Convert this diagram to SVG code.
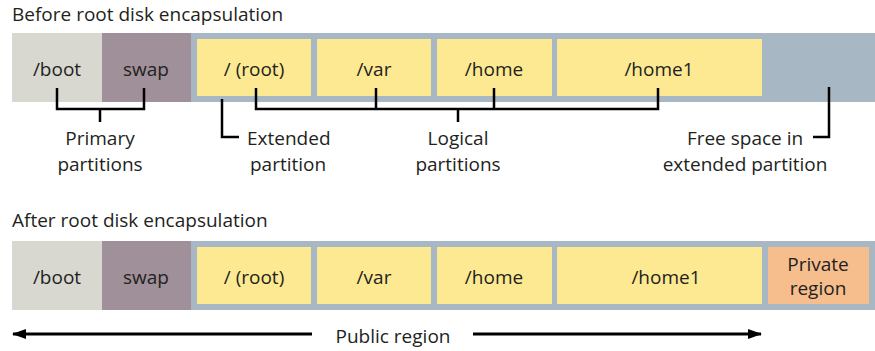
<svg xmlns="http://www.w3.org/2000/svg" width="875" height="351" viewBox="0 0 875 351">
<defs>
<style>
text{font-family:"Open Sans","Noto Sans","DejaVu Sans",sans-serif;fill:#231f20}
.t{font-size:19px}
.l{font-size:19px;text-anchor:middle}
.boot{fill:#d9d8d0}
.swap{fill:#a09099}
.ext{fill:#a7b7c4}
.part{fill:#fde992}
.priv{fill:#f6be8d}
.br{fill:none;stroke:#000;stroke-width:2.5}
.ar{stroke:#000;stroke-width:3}
</style>
<marker id="ah" viewBox="0 0 14 10" refX="13" refY="5" markerWidth="14" markerHeight="10" markerUnits="userSpaceOnUse" orient="auto-start-reverse">
<path d="M0,0 L14,5 L0,10 z" fill="#000"/>
</marker>
</defs>
<rect width="875" height="351" fill="#fff"/>
<text class="t" x="12" y="21">Before root disk encapsulation</text>
<g id="before">
<g id="b-boot"><rect class="boot" x="12" y="33" width="90" height="69"/><text class="l" x="57" y="76">/boot</text></g>
<g id="b-swap"><rect class="swap" x="102" y="33" width="89" height="69"/><text class="l" x="146" y="76">swap</text></g>
<g id="b-ext"><rect class="ext" x="191" y="33" width="684" height="69"/></g>
<g id="b-root"><rect class="part" x="197" y="39" width="114" height="57"/><text class="l" x="254" y="76">/ (root)</text></g>
<g id="b-var"><rect class="part" x="317" y="39" width="114" height="57"/><text class="l" x="374" y="76">/var</text></g>
<g id="b-home"><rect class="part" x="437" y="39" width="115" height="57"/><text class="l" x="494" y="76">/home</text></g>
<g id="b-home1"><rect class="part" x="557" y="39" width="205" height="57"/><text class="l" x="659" y="76">/home1</text></g>
</g>
<g id="labels">
<text class="l" x="100" y="145">Primary</text>
<text class="l" x="100" y="171">partitions</text>
<text class="l" x="247" y="145" style="text-anchor:start">Extended</text>
<text class="l" x="250" y="171" style="text-anchor:start">partition</text>
<text class="l" x="458" y="145">Logical</text>
<text class="l" x="458" y="171">partitions</text>
<text class="l" x="745" y="145">Free space in</text>
<text class="l" x="745" y="171">extended partition</text>
</g>
<g id="connectors">
<path class="br" d="M57,88 V109 H144 V88 M100,109 V122"/>
<path class="br" d="M222,99 V137 H239"/>
<path class="br" d="M256,88 V109 H658 V88 M376,88 V109 M494,88 V109 M458,109 V122"/>
<path class="br" d="M829,87 V137 H813"/>
<line class="ar" x1="312" y1="334" x2="13" y2="334" marker-end="url(#ah)"/>
<line class="ar" x1="473" y1="334" x2="761" y2="334" marker-end="url(#ah)"/>
</g>
<text class="t" x="12" y="227">After root disk encapsulation</text>
<g id="after">
<g id="a-boot"><rect class="boot" x="12" y="241" width="90" height="69"/><text class="l" x="57" y="284">/boot</text></g>
<g id="a-swap"><rect class="swap" x="102" y="241" width="89" height="69"/><text class="l" x="146" y="284">swap</text></g>
<g id="a-ext"><rect class="ext" x="191" y="241" width="684" height="69"/></g>
<g id="a-root"><rect class="part" x="197" y="247" width="114" height="57"/><text class="l" x="254" y="284">/ (root)</text></g>
<g id="a-var"><rect class="part" x="317" y="247" width="114" height="57"/><text class="l" x="374" y="284">/var</text></g>
<g id="a-home"><rect class="part" x="437" y="247" width="115" height="57"/><text class="l" x="494" y="284">/home</text></g>
<g id="a-home1"><rect class="part" x="557" y="247" width="205" height="57"/><text class="l" x="666" y="284">/home1</text></g>
<g id="a-priv"><rect class="priv" x="768" y="247" width="101" height="57"/><text class="l" x="818" y="271">Private</text><text class="l" x="818" y="295">region</text></g>
</g>
<text class="l" x="393" y="343">Public region</text>
</svg>
